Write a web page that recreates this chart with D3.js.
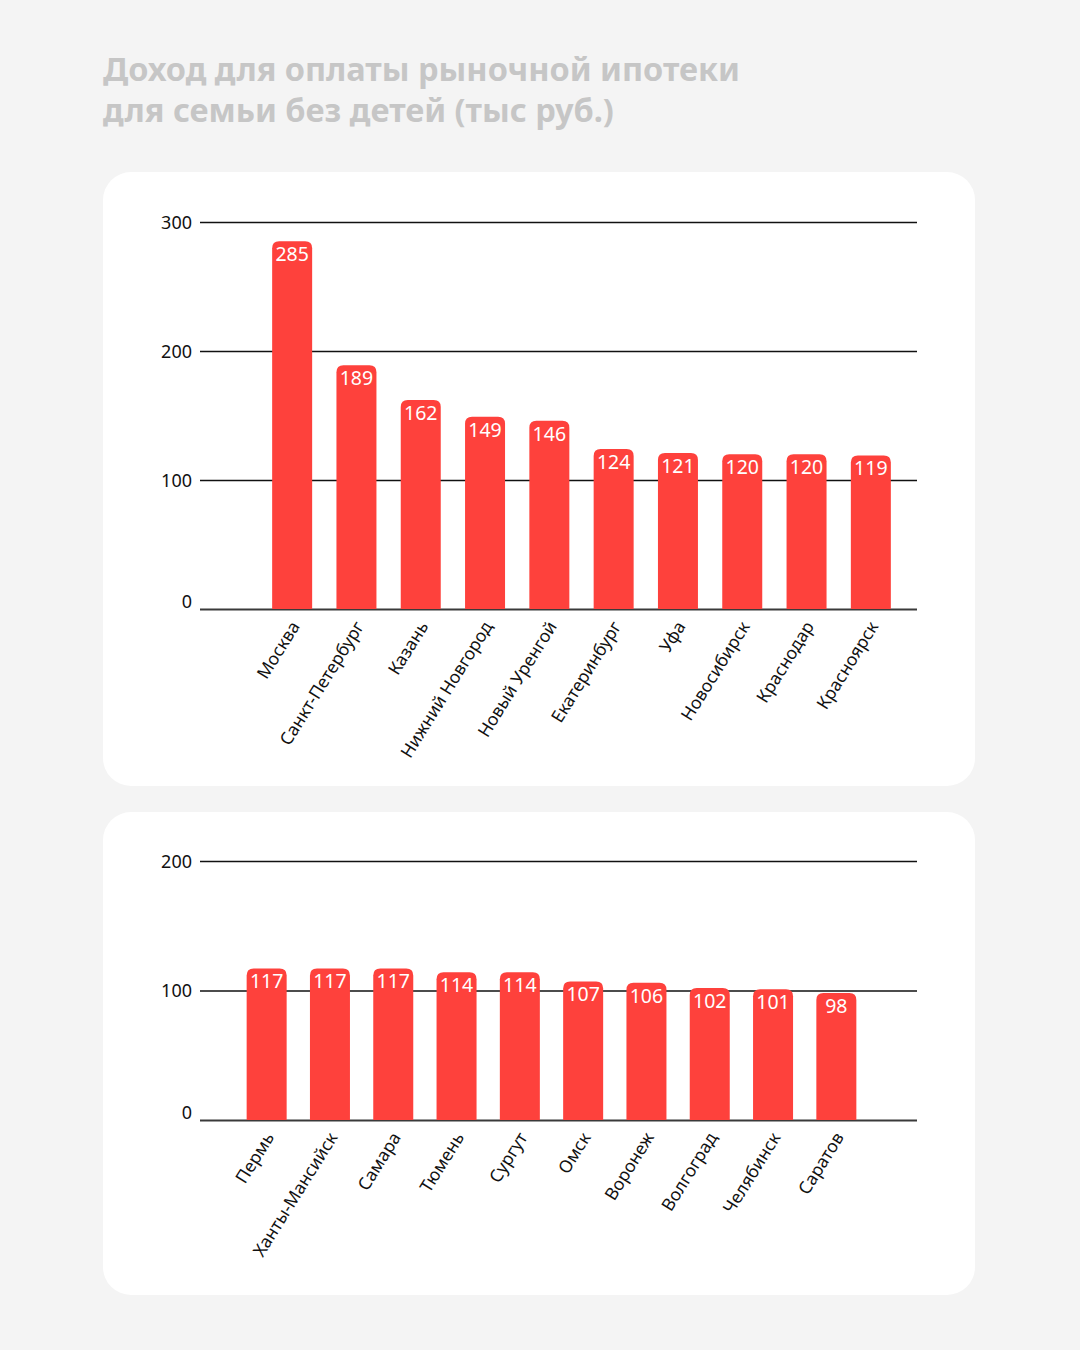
<!DOCTYPE html>
<html><head><meta charset="utf-8">
<script src="https://cdn.jsdelivr.net/npm/d3@7/dist/d3.min.js"></script>
<style>
html,body{margin:0;padding:0;background:#f4f4f4;}
svg{display:block;}
</style></head>
<body>
<svg id="c" width="1080" height="1350"></svg>
<script>
const titleLines = ["Доход для оплаты рыночной ипотеки", "для семьи без детей (тыс руб.)"];

const cities1 = ["Москва","Санкт-Петербург","Казань","Нижний Новгород","Новый Уренгой","Екатеринбург","Уфа","Новосибирск","Краснодар","Красноярск"];
const values1 = [285,189,162,149,146,124,121,120,120,119];
const ticks1 = [0,100,200,300];

const cities2 = ["Пермь","Ханты-Мансийск","Самара","Тюмень","Сургут","Омск","Воронеж","Волгоград","Челябинск","Саратов"];
const values2 = [117,117,117,114,114,107,106,102,101,98];
const ticks2 = [0,100,200];

const svg = d3.select("#c");
const FONT = "'Noto Sans', 'Open Sans', sans-serif";
const RED = "#fe413c";

svg.append("rect").attr("width",1080).attr("height",1350).attr("fill","#f4f4f4");

svg.append("g").selectAll("text").data(titleLines).join("text")
  .attr("x",103).attr("y",(d,i)=>81+i*41)
  .attr("font-family",FONT).attr("font-weight",700).attr("font-size",32.5)
  .attr("fill","#c6c6c6").text(d=>d);

function panel(y0,y1){
  svg.append("rect").attr("x",103).attr("y",y0).attr("width",872).attr("height",y1-y0)
    .attr("rx",28).attr("fill","#ffffff");
}
panel(172,786);
panel(812,1295);

function barPath(x,y,w,h,r){
  r=Math.min(r,h,w/2);
  return `M${x},${y+h}V${y+r}Q${x},${y} ${x+r},${y}H${x+w-r}Q${x+w},${y} ${x+w},${y+r}V${y+h}Z`;
}

function chart(cats, vals, ticks, yDomainMax, yRange, xRange, padInner){
  const g = svg.append("g");
  const y = d3.scaleLinear().domain([0,yDomainMax]).range(yRange);
  const x = d3.scaleBand().domain(cats).range(xRange).paddingInner(padInner).paddingOuter(0.5);

  const ax = g.append("g").attr("transform","translate(200,0)")
    .call(d3.axisLeft(y).tickValues(ticks).tickSize(-717).tickPadding(8).tickFormat(d3.format("d")));
  ax.select(".domain").remove();
  ax.selectAll(".tick line").attr("stroke",d=>d===0?"#3a3a3a":"#111").attr("stroke-width",d=>d===0?2:1.5);
  ax.selectAll(".tick text").attr("font-family",FONT).attr("font-size",18).attr("fill","#111")
    .attr("dy",d=>d===0?"-0.1em":"0.36em");

  g.append("g").selectAll("path").data(cats).join("path")
    .attr("d",(d,i)=>barPath(x(d), y(vals[i]), x.bandwidth(), y(0)-y(vals[i]), 7))
    .attr("fill",RED);

  g.append("g").selectAll("text").data(cats).join("text")
    .attr("x",d=>x(d)+x.bandwidth()/2).attr("y",(d,i)=>y(vals[i])+20)
    .attr("text-anchor","middle").attr("font-family",FONT).attr("font-size",19.5)
    .attr("fill","#fff").text((d,i)=>vals[i]);

  g.append("g").selectAll("text").data(cats).join("text")
    .attr("transform",d=>`translate(${x(d)+x.bandwidth()/2+3},${y(0)+14}) rotate(-58)`)
    .attr("text-anchor","end").attr("dy","0.35em")
    .attr("font-family",FONT).attr("font-size",17.5).attr("fill","#111").text(d=>d);
}

chart(cities1, values1, ticks1, 300, [609,222], [240,923], 0.378);
chart(cities2, values2, ticks2, 200, [1120,861], [215,888], 0.368);
</script>
</body></html>
